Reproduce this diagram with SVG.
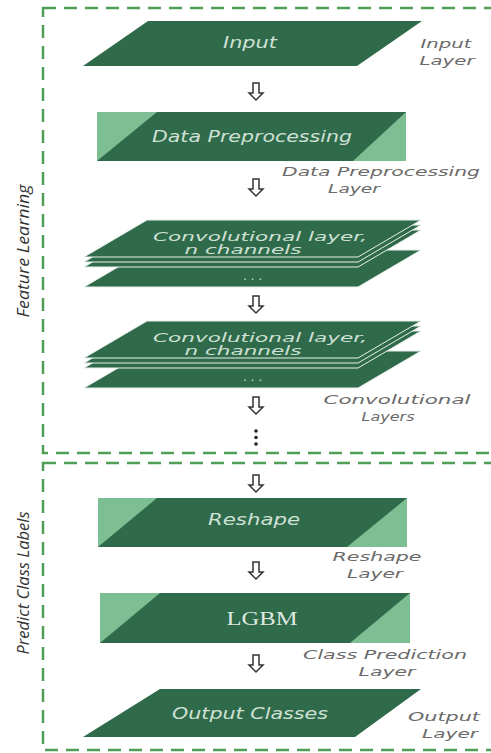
<svg xmlns="http://www.w3.org/2000/svg" width="491" height="753" viewBox="0 0 491 753">
<defs>
<style>
.frame{fill:none;stroke:#4f9e57;stroke-width:2.5;stroke-dasharray:13 8}
.dk{fill:#2f6a4a}
.lt{fill:#7dbf93}
.ly{fill:#2f6a4a;stroke:#e8f0ea;stroke-width:1}
.in{font-family:"DejaVu Sans",sans-serif;font-style:italic;font-size:15px;fill:#cfe0d5;text-anchor:middle}
.cv{font-family:"DejaVu Sans",sans-serif;font-style:italic;font-size:12px;fill:#cfe0d5;text-anchor:middle}
.lb{font-family:"DejaVu Sans",sans-serif;font-style:italic;font-size:13px;fill:#6a6a6a;text-anchor:middle}
.sec{font-family:"Open Sans",sans-serif;font-style:italic;font-size:17px;fill:#333333;text-anchor:middle}
.arr{fill:#ffffff;stroke:#333333;stroke-width:1.5;stroke-linejoin:miter}
.dot{fill:#222222}
</style>
<path id="arrow" d="M-3,0 H3 V10 H7 L0,17 L-7,10 H-3 Z"/>
</defs>

<g id="frames">
<rect class="frame" x="43" y="8" width="452" height="445"/>
<rect class="frame" x="43" y="463" width="452" height="287"/>
<text class="sec" transform="translate(29,251) rotate(-90)" textLength="133" lengthAdjust="spacingAndGlyphs">Feature Learning</text>
<text class="sec" transform="translate(29,583) rotate(-90)" textLength="143" lengthAdjust="spacingAndGlyphs">Predict Class Labels</text>
</g>

<g id="connectors">
<use href="#arrow" class="arr" x="256" y="83"/>
<use href="#arrow" class="arr" x="256" y="179"/>
<use href="#arrow" class="arr" x="256" y="296"/>
<use href="#arrow" class="arr" x="256" y="397"/>
<circle class="dot" cx="256" cy="431" r="1.8"/>
<circle class="dot" cx="256" cy="437.5" r="1.8"/>
<circle class="dot" cx="256" cy="444" r="1.8"/>
<use href="#arrow" class="arr" x="256" y="475"/>
<use href="#arrow" class="arr" x="256" y="562"/>
<use href="#arrow" class="arr" x="256" y="655"/>
</g>

<g id="input">
<polygon class="dk" points="148,21 422,21 357,66 83,66"/>
<text class="in" x="250" y="48" textLength="54" lengthAdjust="spacingAndGlyphs">Input</text>
<text class="lb" x="446" y="48" textLength="51" lengthAdjust="spacingAndGlyphs">Input</text>
<text class="lb" x="447" y="65" textLength="55" lengthAdjust="spacingAndGlyphs">Layer</text>
</g>

<g id="preprocessing">
<rect class="lt" x="97" y="112" width="309" height="49"/>
<polygon class="dk" points="157,112 406,112 353,161 97,161"/>
<text class="in" x="252" y="142" textLength="200" lengthAdjust="spacingAndGlyphs">Data Preprocessing</text>
<text class="lb" x="381" y="176" textLength="198" lengthAdjust="spacingAndGlyphs">Data Preprocessing</text>
<text class="lb" x="354" y="193" textLength="52" lengthAdjust="spacingAndGlyphs">Layer</text>
</g>

<g id="conv1">
<polygon class="ly" points="147,250 421,250 358,287 84,287"/>
<polygon class="ly" points="147,230 421,230 358,267 84,267"/>
<polygon class="ly" points="147,225 421,225 358,262 84,262"/>
<polygon class="ly" points="147,220 421,220 358,257 84,257"/>
<text class="cv" x="260" y="241" textLength="214" lengthAdjust="spacingAndGlyphs">Convolutional layer,</text>
<text class="cv" x="243" y="254" textLength="117" lengthAdjust="spacingAndGlyphs">n channels</text>
<text class="cv" x="253" y="280" font-style="normal">. . .</text>
</g>

<g id="conv2">
<polygon class="ly" points="147,351 421,351 358,388 84,388"/>
<polygon class="ly" points="147,331 421,331 358,368 84,368"/>
<polygon class="ly" points="147,326 421,326 358,363 84,363"/>
<polygon class="ly" points="147,321 421,321 358,358 84,358"/>
<text class="cv" x="260" y="342" textLength="214" lengthAdjust="spacingAndGlyphs">Convolutional layer,</text>
<text class="cv" x="243" y="355" textLength="117" lengthAdjust="spacingAndGlyphs">n channels</text>
<text class="cv" x="253" y="381" font-style="normal">. . .</text>
<text class="lb" x="397" y="404" textLength="147" lengthAdjust="spacingAndGlyphs">Convolutional</text>
<text class="lb" x="388" y="421" textLength="53" lengthAdjust="spacingAndGlyphs">Layers</text>
</g>

<g id="reshape">
<rect class="lt" x="98" y="498" width="309" height="49"/>
<polygon class="dk" points="157,498 407,498 347,547 98,547"/>
<text class="in" x="254" y="525" textLength="92" lengthAdjust="spacingAndGlyphs">Reshape</text>
<text class="lb" x="377" y="561" textLength="89" lengthAdjust="spacingAndGlyphs">Reshape</text>
<text class="lb" x="375" y="578" textLength="56" lengthAdjust="spacingAndGlyphs">Layer</text>
</g>

<g id="lgbm">
<rect class="lt" x="100" y="593" width="310" height="50"/>
<polygon class="dk" points="160,593 410,593 350,643 100,643"/>
<text x="262" y="625" font-family="Liberation Serif, serif" font-size="19" fill="#dfe9e2" text-anchor="middle" textLength="71" lengthAdjust="spacingAndGlyphs">LGBM</text>
<text class="lb" x="385" y="659" textLength="164" lengthAdjust="spacingAndGlyphs">Class Prediction</text>
<text class="lb" x="387" y="676" textLength="57" lengthAdjust="spacingAndGlyphs">Layer</text>
</g>

<g id="output">
<polygon class="dk" points="160,689 421,689 355,737 83,737"/>
<text class="in" x="250" y="719" textLength="156" lengthAdjust="spacingAndGlyphs">Output Classes</text>
<text class="lb" x="444" y="721" textLength="72" lengthAdjust="spacingAndGlyphs">Output</text>
<text class="lb" x="450" y="738" textLength="56" lengthAdjust="spacingAndGlyphs">Layer</text>
</g>
</svg>
